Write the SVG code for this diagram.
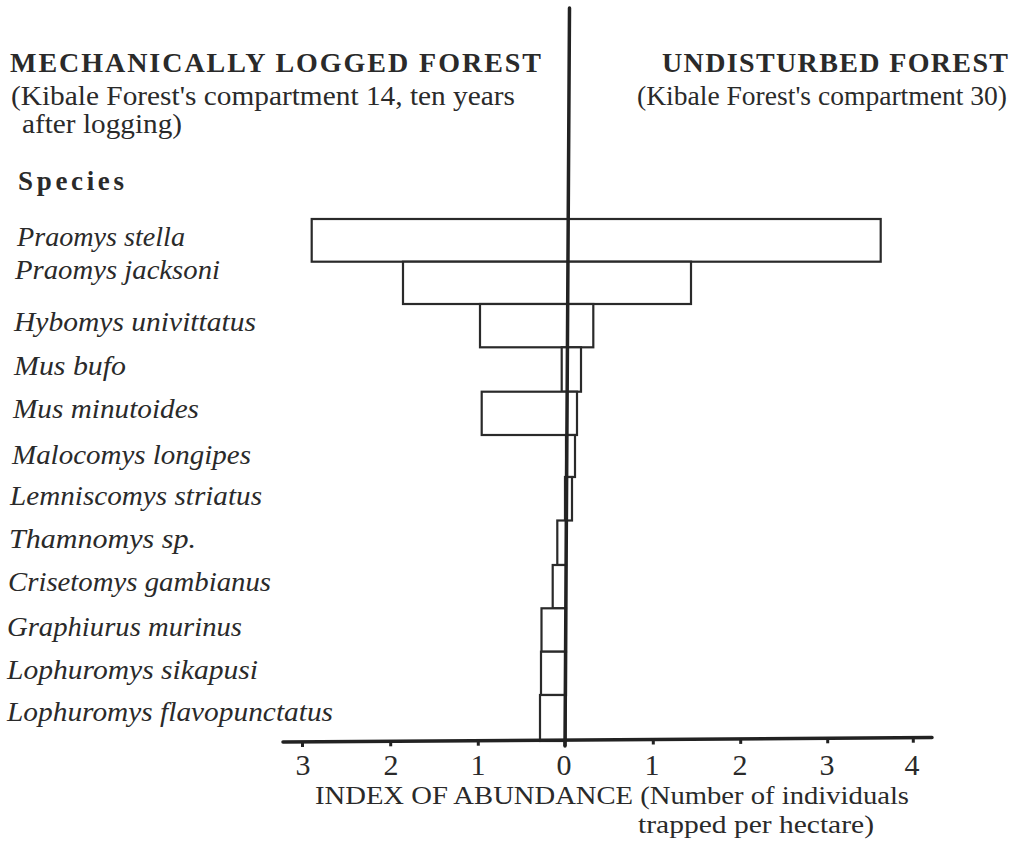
<svg xmlns="http://www.w3.org/2000/svg" width="1032" height="847" viewBox="0 0 1032 847">
<style>
text{font-family:"Liberation Serif","Times New Roman",serif;fill:#2a2a2a}
.title{font-size:28px;font-weight:bold}
.sub{font-size:27px}
.sp{font-size:27px;font-style:italic}
.num{font-size:30px;text-anchor:middle}
.ax{font-size:26px}
.bar{fill:#fff;stroke:#2a2a2a;stroke-width:2.2}
.axis{stroke:#222;stroke-width:3.5;fill:none;stroke-linecap:round}
.tick{stroke:#222;stroke-width:3;fill:none}
</style>
<rect width="1032" height="847" fill="#fff"/>
<g id="headings">
<text class="title" x="10" y="72" textLength="531" lengthAdjust="spacing">MECHANICALLY LOGGED FOREST</text>
<text class="sub" x="11" y="105" textLength="504" lengthAdjust="spacingAndGlyphs">(Kibale Forest's compartment 14, ten years</text>
<text class="sub" x="22" y="133" textLength="160" lengthAdjust="spacingAndGlyphs">after logging)</text>
<text class="title" x="662" y="72" textLength="346" lengthAdjust="spacing">UNDISTURBED FOREST</text>
<text class="sub" x="637" y="105" textLength="370" lengthAdjust="spacingAndGlyphs">(Kibale Forest's compartment 30)</text>
<text class="title" x="18" y="190" textLength="106" lengthAdjust="spacing" style="font-size:27px">Species</text>
</g>
<g id="species-labels">
<text class="sp" x="17" y="246" textLength="168" lengthAdjust="spacingAndGlyphs">Praomys stella</text>
<text class="sp" x="15" y="279" textLength="205" lengthAdjust="spacingAndGlyphs">Praomys jacksoni</text>
<text class="sp" x="14" y="331" textLength="242" lengthAdjust="spacingAndGlyphs">Hybomys univittatus</text>
<text class="sp" x="14" y="375" textLength="112" lengthAdjust="spacingAndGlyphs">Mus bufo</text>
<text class="sp" x="13" y="418" textLength="186" lengthAdjust="spacingAndGlyphs">Mus minutoides</text>
<text class="sp" x="12" y="464" textLength="239" lengthAdjust="spacingAndGlyphs">Malocomys longipes</text>
<text class="sp" x="10" y="505" textLength="252" lengthAdjust="spacingAndGlyphs">Lemniscomys striatus</text>
<text class="sp" x="9" y="548" textLength="187" lengthAdjust="spacingAndGlyphs">Thamnomys sp.</text>
<text class="sp" x="8" y="591" textLength="263" lengthAdjust="spacingAndGlyphs">Crisetomys gambianus</text>
<text class="sp" x="7" y="636" textLength="235" lengthAdjust="spacingAndGlyphs">Graphiurus murinus</text>
<text class="sp" x="7" y="679" textLength="251" lengthAdjust="spacingAndGlyphs">Lophuromys sikapusi</text>
<text class="sp" x="7" y="721" textLength="326" lengthAdjust="spacingAndGlyphs">Lophuromys flavopunctatus</text>
</g>
<g id="bars">
<rect class="bar" x="311.7" y="219" width="569" height="42.7"/>
<rect class="bar" x="403" y="261.7" width="288" height="42.3"/>
<rect class="bar" x="480" y="304" width="113.3" height="43.3"/>
<rect class="bar" x="561.7" y="347.3" width="19.3" height="44.4"/>
<rect class="bar" x="481.7" y="391.7" width="95.3" height="43.3"/>
<rect class="bar" x="566" y="435" width="9" height="42"/>
<rect class="bar" x="565" y="477" width="7" height="43.5"/>
<rect class="bar" x="557.3" y="520.5" width="8.7" height="44.5"/>
<rect class="bar" x="552.7" y="565" width="13.3" height="43.3"/>
<rect class="bar" x="541.5" y="608.3" width="24.5" height="43.4"/>
<rect class="bar" x="541" y="651.7" width="25" height="43.3"/>
<rect class="bar" x="540" y="695" width="25.5" height="46"/>
</g>
<g id="axes">
<line class="axis" x1="569.5" y1="8" x2="565" y2="746"/>
<line class="axis" x1="283" y1="742" x2="932" y2="737.5"/>
<line class="tick" x1="302.5" y1="742" x2="302.5" y2="747"/>
<line class="tick" x1="390.7" y1="741.3" x2="390.7" y2="746.3"/>
<line class="tick" x1="478.3" y1="740.7" x2="478.3" y2="745.7"/>
<line class="tick" x1="565" y1="740.1" x2="565" y2="746"/>
<line class="tick" x1="653.3" y1="739.5" x2="653.3" y2="744.5"/>
<line class="tick" x1="740.7" y1="738.9" x2="740.7" y2="743.9"/>
<line class="tick" x1="827.7" y1="738.3" x2="827.7" y2="743.3"/>
<line class="tick" x1="913.3" y1="737.7" x2="913.3" y2="742.7"/>
</g>
<g id="axis-labels">
<text class="num" x="303" y="775">3</text>
<text class="num" x="391" y="775">2</text>
<text class="num" x="478" y="775">1</text>
<text class="num" x="564" y="775">0</text>
<text class="num" x="652" y="775">1</text>
<text class="num" x="740" y="775">2</text>
<text class="num" x="827" y="775">3</text>
<text class="num" x="912" y="775">4</text>
<text class="ax" x="315" y="804" textLength="594" lengthAdjust="spacingAndGlyphs">INDEX OF ABUNDANCE (Number of individuals</text>
<text class="ax" x="638" y="833" textLength="236" lengthAdjust="spacingAndGlyphs">trapped per hectare)</text>
</g>
</svg>
